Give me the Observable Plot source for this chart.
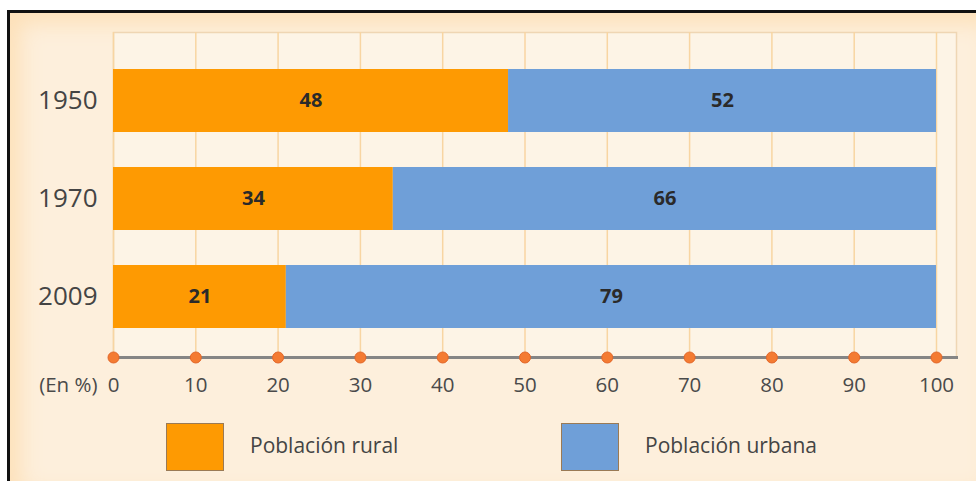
<!DOCTYPE html>
<html>
<head>
<meta charset="utf-8">
<script src="https://cdn.jsdelivr.net/npm/d3@7"></script>
<script src="https://cdn.jsdelivr.net/npm/@observablehq/plot@0.6"></script>
<style>
  html, body { margin: 0; padding: 0; background: #ffffff; }
  body { width: 976px; height: 481px; position: relative; overflow: hidden; font-family: "Open Sans", sans-serif; }
  #bg {
    position: absolute; left: 7px; top: 10px; width: 990px; height: 490px;
    border-top: 3px solid #111; border-left: 3px solid #111;
    background: #fdefdc;
    box-shadow: inset 0 0 22px 10px #fde0b8;
  }
  #chart { position: absolute; left: 0; top: 0; }
  #legend { position: absolute; left: 0; top: 410px; width: 976px; height: 71px; }
  .sw { position: absolute; top: 13px; width: 56px; height: 46px; border: 1px solid #9a7a55; }
  .lab { position: absolute; top: 20px; font-size: 21px; color: #444; line-height: 30px; }
</style>
</head>
<body>
<div id="bg"></div>
<div id="chart"></div>
<div id="legend"></div>
<script>
const years = ["1950", "1970", "2009"];
const rural = [48, 34, 21];
const urban = [52, 66, 79];
const series = ["Población rural", "Población urbana"];
const colors = ["#fe9a02", "#6f9fd8"];
const ticks = [0, 10, 20, 30, 40, 50, 60, 70, 80, 90, 100];
const axisLabel = "(En %)";

const data = [];
years.forEach((y, i) => {
  data.push({year: y, type: series[0], value: rural[i]});
  data.push({year: y, type: series[1], value: urban[i]});
});

const chart = Plot.plot({
  width: 976,
  height: 410,
  marginLeft: 113,
  marginRight: 20,
  marginTop: 32,
  marginBottom: 53,
  style: {background: "transparent", fontFamily: "'Open Sans', sans-serif"},
  x: {domain: [0, 100], range: [113, 936], axis: null},
  y: {domain: years, paddingInner: 0.357, paddingOuter: 0.326, align: 0.56, label: null},
  color: {domain: series, range: colors},
  marks: [
    Plot.frame({fill: "#fdf4e6", stroke: "#efd6b4", strokeWidth: 1.5}),
    Plot.ruleX(ticks, {x: d => d, stroke: "#f8d5a2", strokeWidth: 1.5}),
    Plot.barX(data, {x: "value", y: "year", fill: "type"}),
    Plot.text(data, Plot.stackX({x: "value", y: "year", z: "type", text: d => String(d.value),
      fontSize: 20, fontWeight: "bold", fill: "#2a2a2a"})),
    Plot.frame({anchor: "bottom", stroke: "#858585", strokeWidth: 3}),
    Plot.dot(ticks, {x: d => d, frameAnchor: "bottom", r: 5.5, fill: "#f47b32", stroke: "#e2672a", strokeWidth: 1}),
    Plot.text(ticks, {x: d => d, frameAnchor: "bottom", dy: 34, text: d => String(d), fontSize: 20.5, fill: "#4a4a4a"}),
    Plot.text([axisLabel], {frameAnchor: "bottom-left", dx: -16, dy: 34, textAnchor: "end", text: d => d, fontSize: 20.5, fill: "#4a4a4a"}),
    Plot.axisY({tickSize: 0, tickPadding: 16, fontSize: 26, color: "#444", label: null})
  ]
});
document.getElementById("chart").appendChild(chart);

const legend = document.getElementById("legend");
const swX = [166, 561];
const labX = [250, 645];
series.forEach((s, i) => {
  const sw = document.createElement("div");
  sw.className = "sw";
  sw.style.left = swX[i] + "px";
  sw.style.background = colors[i];
  legend.appendChild(sw);
  const t = document.createElement("div");
  t.className = "lab";
  t.style.left = labX[i] + "px";
  t.textContent = s;
  legend.appendChild(t);
});
</script>
</body>
</html>
